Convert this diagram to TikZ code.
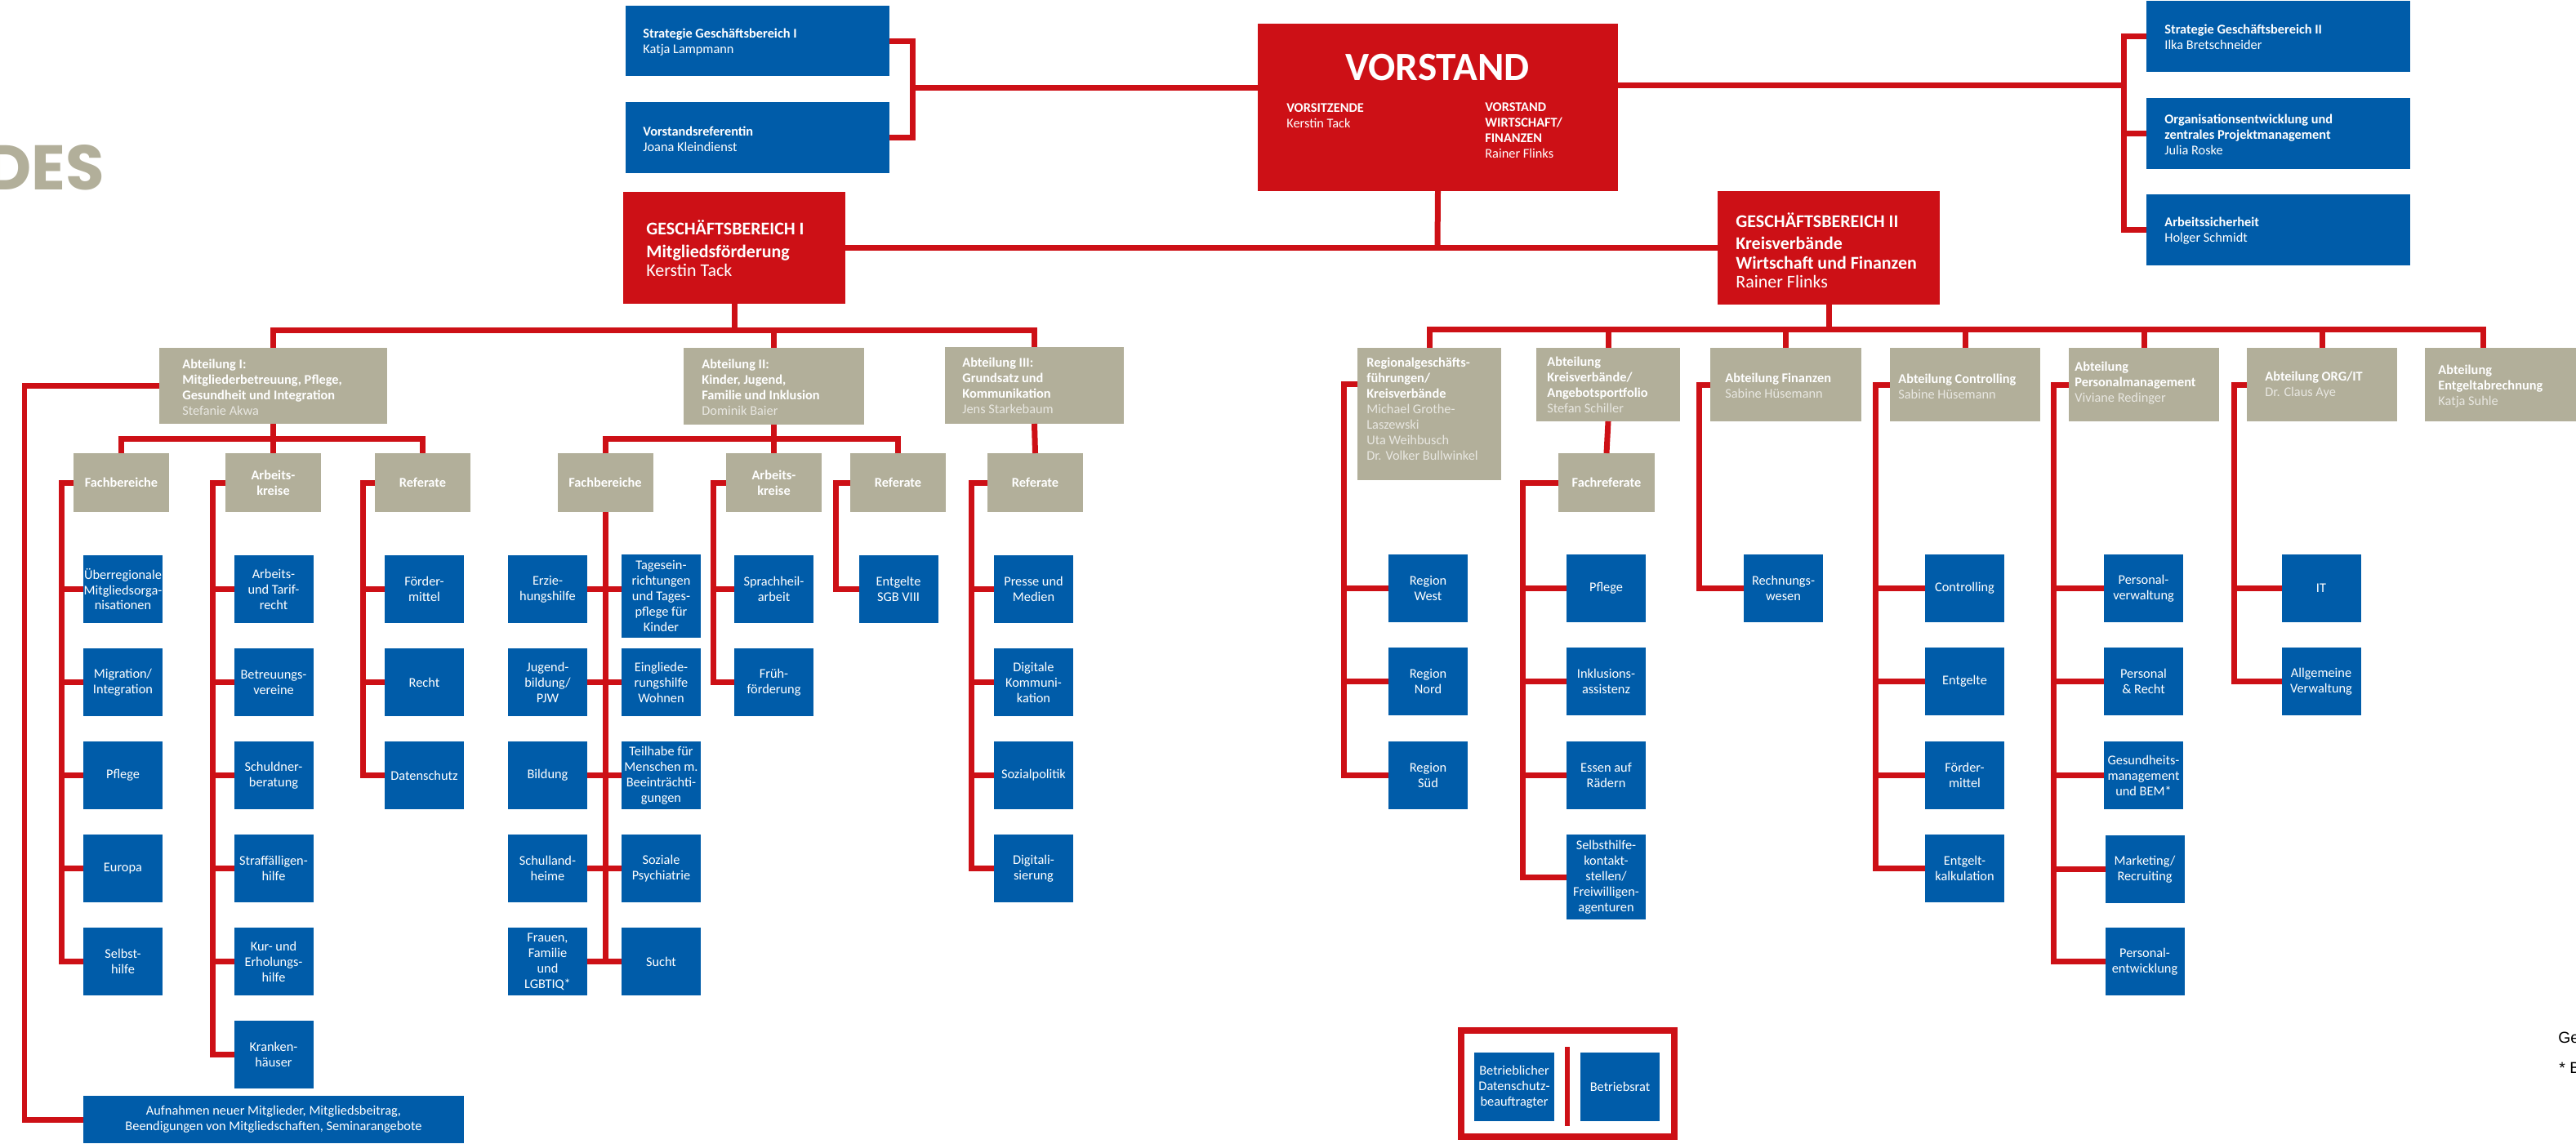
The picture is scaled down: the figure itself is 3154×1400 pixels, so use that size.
\documentclass[tikz,border=0pt]{standalone}
\usepackage{fontspec}
\setmainfont{Carlito}
\newfontfamily\headfont{Poppins}
\newfontfamily\notefont{Liberation Sans}
\definecolor{dvred}{RGB}{205,16,22}
\definecolor{dvblue}{RGB}{0,92,169}
\definecolor{dvtan}{RGB}{178,175,154}
\colorlet{dvname}{white!70!dvtan}
\newcommand{\fsn}{\fontsize{9.3}{10.8}\selectfont}
\newcommand{\who}[1]{{\mdseries #1}}
\newcommand{\whog}[1]{{\mdseries\color{dvname}#1}}

\begin{document}
\begin{tikzpicture}[x=0.02cm, y=-0.02cm,
  wh/.style 2 args={minimum width=#1*0.02cm, minimum height=#2*0.02cm},
  orgbox/.style={inner sep=0pt, outer sep=0pt, text=white, font=\fsn, align=center},
  redbox/.style={orgbox, fill=dvred},
  bluebox/.style={orgbox, fill=dvblue},
  tanbox/.style={orgbox, fill=dvtan, font=\fsn\bfseries},
  cell/.style={bluebox, wh={97}{83}},
  sect/.style={tanbox, wh={117}{72}},
  txt/.style={anchor=west, align=left, inner sep=0pt, text=white, font=\fsn\bfseries},
  bigtxt/.style={txt, font=\fontsize{12.5}{13.2}\selectfont\bfseries},
  link/.style={draw=dvred, line width=0.14cm}]
\useasboundingbox (0,0) rectangle (3154,1400);

% title fragment, cut by the page edge
\node[font=\headfont\bfseries\fontsize{44}{48}\selectfont, text=dvtan, anchor=base east, inner sep=0pt] (ttl) at (128,232) {DES};

% board and staff
\node[redbox, wh={441}{205}] (vorstand) at (1760.5,131.5) {};
\node[anchor=base, inner sep=0pt, text=white, font=\fontsize{28}{30}\selectfont\bfseries] (vtitle) at (1760,98) {VORSTAND};
\node[txt] (vchair) at (1575,142) {VORSITZENDE\\\who{Kerstin Tack}};
\node[txt] (vfin) at (1818,160) {VORSTAND\\WIRTSCHAFT/\\FINANZEN\\\who{Rainer Flinks}};

\node[bluebox, wh={323}{86}] (strat1) at (927.5,50) {};
\node[txt] at (787,51.5) {Strategie Geschäftsbereich I\\\who{Katja Lampmann}};
\node[bluebox, wh={323}{87}] (vref) at (927.5,168.5) {};
\node[txt] at (787,170) {Vorstandsreferentin\\\who{Joana Kleindienst}};
\node[bluebox, wh={323}{87}] (strat2) at (2789.5,44.5) {};
\node[txt] at (2650,45.5) {Strategie Geschäftsbereich II\\\who{Ilka Bretschneider}};
\node[bluebox, wh={323}{87}] (orgent) at (2789.5,163.5) {};
\node[txt] at (2650,165) {Organisationsentwicklung und\\zentrales Projektmanagement\\\who{Julia Roske}};
\node[bluebox, wh={323}{87}] (arbsich) at (2789.5,281.5) {};
\node[txt] at (2650,283) {Arbeitssicherheit\\\who{Holger Schmidt}};

% business units
\node[redbox, wh={272}{137}] (gb1) at (899,303) {};
\node[bigtxt] at (791,304.5) {GESCHÄFTSBEREICH I\\[2.5pt]Mitgliedsförderung\\\who{Kerstin Tack}};
\node[redbox, wh={272}{139}] (gb2) at (2239,303) {};
\node[bigtxt] at (2125,306.5) {GESCHÄFTSBEREICH II\\[2.5pt]Kreisverbände\\Wirtschaft und Finanzen\\\who{Rainer Flinks}};

% departments of GB I
\node[tanbox, wh={279}{93}] (abt1) at (334.5,472.5) {};
\node[txt] at (223,474) {Abteilung I:\\Mitgliederbetreuung, Pflege,\\Gesundheit und Integration\\\whog{Stefanie Akwa}};
\node[tanbox, wh={221}{94}] (abt2) at (947.5,473) {};
\node[txt] at (859,474) {Abteilung II:\\Kinder, Jugend,\\Familie und Inklusion\\\whog{Dominik Baier}};
\node[tanbox, wh={219}{94}] (abt3) at (1266.5,472) {};
\node[txt] at (1178,472) {Abteilung III:\\Grundsatz und\\Kommunikation\\\whog{Jens Starkebaum}};

\node[sect] (fb1) at (148.5,591) {Fachbereiche};
\node[sect] (ak1) at (334.5,591) {Arbeits-\\kreise};
\node[sect] (ref1) at (517.5,591) {Referate};
\node[sect] (fb2) at (741,591) {Fachbereiche};
\node[sect] (ak2) at (947.5,591) {Arbeits-\\kreise};
\node[sect] (ref2) at (1099.5,591) {Referate};
\node[sect] (ref3) at (1267.5,591) {Referate};

% Abteilung I
\node[cell] (ueber) at (150.5,721.5) {Überregionale\\Mitgliedsorga-\\nisationen};
\node[cell] (migr) at (150.5,835.5) {Migration/\\Integration};
\node[cell] (pflege1) at (150.5,949.5) {Pflege};
\node[cell] (europa) at (150.5,1063.5) {Europa};
\node[cell] (selbst) at (150.5,1177.5) {Selbst-\\hilfe};
\node[cell] (arbtarif) at (335,721.5) {Arbeits-\\und Tarif-\\recht};
\node[cell] (betreu) at (335,835.5) {Betreuungs-\\vereine};
\node[cell] (schuldner) at (335,949.5) {Schuldner-\\beratung};
\node[cell] (straff) at (335,1063.5) {Straffälligen-\\hilfe};
\node[cell] (kur) at (335,1177.5) {Kur- und\\Erholungs-\\hilfe};
\node[cell] (kranken) at (335,1291.5) {Kranken-\\häuser};
\node[cell] (foerd1) at (519.5,721.5) {Förder-\\mittel};
\node[cell] (recht) at (519.5,835.5) {Recht};
\node[cell] (dschutz) at (519.5,949.5) {Datenschutz};
\node[bluebox, wh={466}{58}] (aufn) at (335,1371) {Aufnahmen neuer Mitglieder, Mitgliedsbeitrag,\\Beendigungen von Mitgliedschaften, Seminarangebote};

% Abteilung II
\node[cell] (erz) at (670.5,721.5) {Erzie-\\hungshilfe};
\node[cell] (jugend) at (670.5,835.5) {Jugend-\\bildung/\\PJW};
\node[cell] (bildung) at (670.5,949.5) {Bildung};
\node[cell] (schulland) at (670.5,1063.5) {Schulland-\\heime};
\node[cell] (frauen) at (670.5,1177.5) {Frauen,\\Familie\\und\\LGBTIQ*};
\node[bluebox, wh={97}{102}] (tages) at (809.5,730) {Tagesein-\\richtungen\\und Tages-\\pflege für\\Kinder};
\node[cell] (einglied) at (809.5,835.5) {Eingliede-\\rungshilfe\\Wohnen};
\node[cell] (teilhabe) at (809.5,949.5) {Teilhabe für\\Menschen m.\\Beeinträchti-\\gungen};
\node[cell] (sozpsy) at (809.5,1063.5) {Soziale\\Psychiatrie};
\node[cell] (sucht) at (809.5,1177.5) {Sucht};
\node[cell] (sprach) at (947.5,721.5) {Sprachheil-\\arbeit};
\node[cell] (frueh) at (947.5,835.5) {Früh-\\förderung};
\node[cell] (entgsgb) at (1100,721.5) {Entgelte\\SGB VIII};

% Abteilung III
\node[cell] (presse) at (1265.5,721.5) {Presse und\\Medien};
\node[cell] (digkom) at (1265.5,835.5) {Digitale\\Kommuni-\\kation};
\node[cell] (sozpol) at (1265.5,949.5) {Sozialpolitik};
\node[cell] (digital) at (1265.5,1063.5) {Digitali-\\sierung};

% departments of GB II
\node[tanbox, wh={176}{162}] (reg) at (1750,507) {};
\node[txt] at (1673,500.5) {Regionalgeschäfts-\\führungen/\\Kreisverbände\\\whog{Michael Grothe-}\\\whog{Laszewski}\\\whog{Uta Weihbusch}\\\whog{Dr. Volker Bullwinkel}};
\node[tanbox, wh={176}{90}] (akv) at (1969,471) {};
\node[txt] at (1894,471) {Abteilung\\Kreisverbände/\\Angebotsportfolio\\\whog{Stefan Schiller}};
\node[tanbox, wh={185}{90}] (fin) at (2186.5,471) {};
\node[txt] at (2112,472.5) {Abteilung Finanzen\\\whog{Sabine Hüsemann}};
\node[tanbox, wh={184}{90}] (ctrl) at (2406,471) {};
\node[txt] at (2324,473.5) {Abteilung Controlling\\\whog{Sabine Hüsemann}};
\node[tanbox, wh={184}{90}] (pm) at (2625,471) {};
\node[txt] at (2540,469.5) {Abteilung\\Personalmanagement\\\whog{Viviane Redinger}};
\node[tanbox, wh={184}{90}] (orgit) at (2843,471) {};
\node[txt] at (2773,471.5) {Abteilung ORG/IT\\\whog{Dr. Claus Aye}};
\node[tanbox, wh={185}{90}] (entg) at (3061.5,471) {};
\node[txt] at (2985,473.5) {Abteilung\\Entgeltabrechnung\\\whog{Katja Suhle}};
\node[sect, wh={118}{72}] (fachref) at (1967,591) {Fachreferate};

\node[cell] (rwest) at (1748.5,720.5) {Region\\West};
\node[cell] (rnord) at (1748.5,834.5) {Region\\Nord};
\node[cell] (rsued) at (1748.5,949.5) {Region\\Süd};
\node[cell] (pflege2) at (1966.5,720.5) {Pflege};
\node[cell] (inklus) at (1966.5,834.5) {Inklusions-\\assistenz};
\node[cell] (essen) at (1966.5,949.5) {Essen auf\\Rädern};
\node[bluebox, wh={97}{104}] (selbsthk) at (1966.5,1074) {Selbsthilfe-\\kontakt-\\stellen/\\Freiwilligen-\\agenturen};
\node[cell] (rechn) at (2183.5,720.5) {Rechnungs-\\wesen};
\node[cell] (contr) at (2405.5,720.5) {Controlling};
\node[cell] (entgelte2) at (2405.5,834.5) {Entgelte};
\node[cell] (foerd2) at (2405.5,949.5) {Förder-\\mittel};
\node[cell] (ekalk) at (2405.5,1063.5) {Entgelt-\\kalkulation};
\node[cell] (pverw) at (2624.5,720.5) {Personal-\\verwaltung};
\node[cell] (precht) at (2624.5,834.5) {Personal\\\& Recht};
\node[cell] (gesund) at (2624.5,949.5) {Gesundheits-\\management\\und BEM*};
\node[cell] (market) at (2626,1064.5) {Marketing/\\Recruiting};
\node[cell] (pentw) at (2626,1177.5) {Personal-\\entwicklung};
\node[cell] (it) at (2842,720.5) {IT};
\node[cell] (allg) at (2842,834.5) {Allgemeine\\Verwaltung};

% works council group
\node[draw=dvred, line width=0.16cm, wh={261}{130}, inner sep=0pt] (brframe) at (1919.5,1327) {};
\node[bluebox, wh={98}{84}] (bdsb) at (1854,1331) {Betrieblicher\\Datenschutz-\\beauftragter};
\node[bluebox, wh={97}{84}] (brat) at (1983.5,1331) {Betriebsrat};
\draw[draw=dvred, line width=0.11cm] (1919,1282) -- (1919,1379);

% footnotes, cut by the page edge
\node[font=\notefont\fontsize{11}{13}\selectfont, anchor=base west, inner sep=0pt] (note1) at (3132,1277) {Ge};
\node[font=\notefont\fontsize{11}{13}\selectfont, anchor=base west, inner sep=0pt] (note2) at (3133,1314) {* B};

% top connectors
\coordinate (jl) at (1117,107);
\coordinate (jr) at (2600,104);
\coordinate (jm) at (1760,303);
\draw[link] (strat1.east) -| (jl) |- (vref.east);
\draw[link] (jl) -- (jl -| vorstand.west);
\draw[link] (jr -| vorstand.east) -- (jr);
\draw[link] (strat2.west) -| (jr) |- (arbsich.west);
\draw[link] (orgent.west) -- (orgent.west -| jr);
\draw[link] (vorstand.south) -- (jm);
\draw[link] (gb1.east) -- (gb2.west);

% GB I tree
\coordinate (bus1) at (900,404);
\coordinate (bus1a) at (335,537);
\coordinate (bus2a) at (947,537);
\draw[link] (gb1.south) -- (gb1.south |- bus1);
\draw[link] (abt1.north) |- (bus1 -| abt3.north) -- (abt3.north);
\draw[link] (abt2.north) -- (abt2.north |- bus1);
\draw[link] (abt1.south) -- (ak1.north);
\draw[link] (fb1.north) |- (bus1a -| ref1.north) -- (ref1.north);
\draw[link] (abt2.south) -- (ak2.north);
\draw[link] (fb2.north) |- (bus2a -| ref2.north) -- (ref2.north);
\draw[link] (abt3.south) -- (ref3.north);

\coordinate (s10) at (30,0);
\coordinate (s11) at (75,0);
\coordinate (s12) at (260,0);
\coordinate (s13) at (444,0);
\coordinate (s22) at (873,0);
\coordinate (s23) at (1023,0);
\coordinate (s31) at (1189,0);
\draw[link] (abt1.west) -| (s10 |- aufn.west) -- (aufn.west);
\draw[link] (fb1.west) -| (s11 |- selbst.west) -- (selbst.west);
\foreach \n in {ueber,migr,pflege1,europa} \draw[link] (\n.west) -- (\n.west -| s11);
\draw[link] (ak1.west) -| (s12 |- kranken.west) -- (kranken.west);
\foreach \n in {arbtarif,betreu,schuldner,straff,kur} \draw[link] (\n.west) -- (\n.west -| s12);
\draw[link] (ref1.west) -| (s13 |- dschutz.west) -- (dschutz.west);
\foreach \n in {foerd1,recht} \draw[link] (\n.west) -- (\n.west -| s13);
\draw[link] (fb2.south) -- (fb2.south |- sucht.west);
\foreach \a/\b in {erz/tages,jugend/einglied,bildung/teilhabe,schulland/sozpsy,frauen/sucht}
  \draw[link] (\a.east) -- (\a.east -| \b.west);
\draw[link] (ak2.west) -| (s22 |- frueh.west) -- (frueh.west);
\draw[link] (sprach.west) -- (sprach.west -| s22);
\draw[link] (ref2.west) -| (s23 |- entgsgb.west) -- (entgsgb.west);
\draw[link] (ref3.west) -| (s31 |- digital.west) -- (digital.west);
\foreach \n in {presse,digkom,sozpol} \draw[link] (\n.west) -- (\n.west -| s31);

% GB II tree
\coordinate (bus2) at (2239,403);
\coordinate (d7) at (3040,403);
\draw[link] (gb2.south) -- (gb2.south |- bus2);
\draw[link] (reg.north) |- (d7) -- (d7 |- entg.north);
\foreach \n in {akv,fin,ctrl,pm,orgit} \draw[link] (\n.north) -- (\n.north |- bus2);
\draw[link] (akv.south) -- (fachref.north);

\coordinate (s41) at (1645,470);
\coordinate (s42) at (1864,0);
\coordinate (s43) at (2080,0);
\coordinate (s44) at (2296,0);
\coordinate (s45) at (2514,0);
\coordinate (s46) at (2735,0);
\draw[link] (s41 -| reg.west) -- (s41) |- (rsued.west);
\foreach \n in {rwest,rnord} \draw[link] (\n.west) -- (\n.west -| s41);
\draw[link] (fachref.west) -| (s42 |- selbsthk.west) -- (selbsthk.west);
\foreach \n in {pflege2,inklus,essen} \draw[link] (\n.west) -- (\n.west -| s42);
\draw[link] (fin.west) -| (s43 |- rechn.west) -- (rechn.west);
\draw[link] (ctrl.west) -| (s44 |- ekalk.west) -- (ekalk.west);
\foreach \n in {contr,entgelte2,foerd2} \draw[link] (\n.west) -- (\n.west -| s44);
\draw[link] (pm.west) -| (s45 |- pentw.west) -- (pentw.west);
\foreach \n in {pverw,precht,gesund,market} \draw[link] (\n.west) -- (\n.west -| s45);
\draw[link] (orgit.west) -| (s46 |- allg.west) -- (allg.west);
\draw[link] (it.west) -- (it.west -| s46);
\end{tikzpicture}
\end{document}
